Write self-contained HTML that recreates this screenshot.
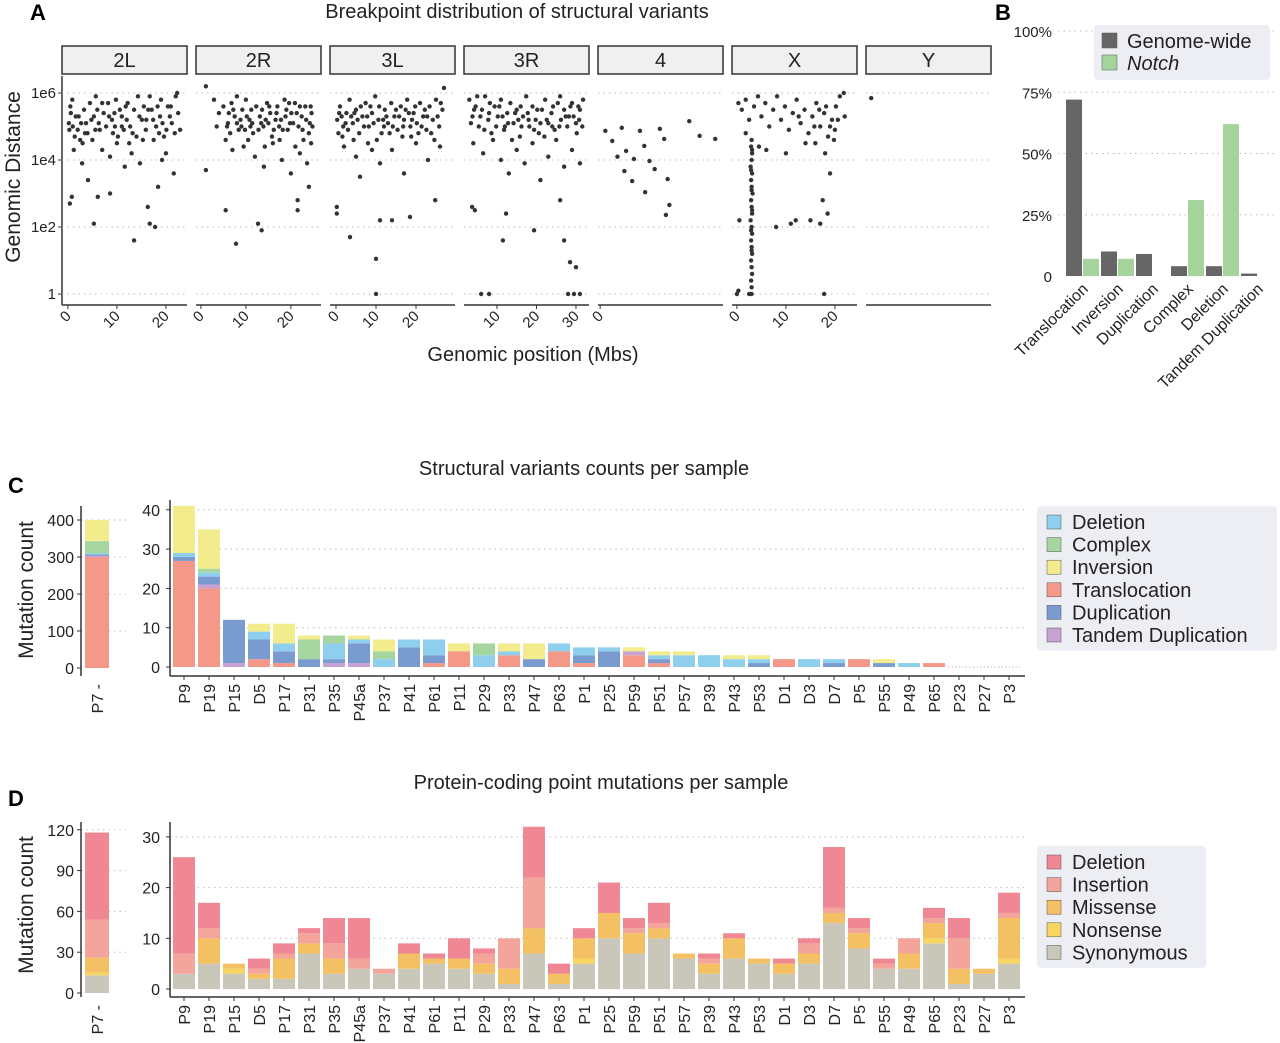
<!DOCTYPE html>
<html><head><meta charset="utf-8">
<style>
html,body{margin:0;padding:0;background:#fff;}
svg{display:block;font-family:"Liberation Sans",sans-serif;}
</style></head>
<body>
<svg id="fig" width="1280" height="1043" viewBox="0 0 1280 1043" xmlns="http://www.w3.org/2000/svg"></svg>
<script>
// ===== Panel A data (position Mb, log10 distance) =====
const facetNames = ["2L","2R","3L","3R","4","X","Y"];
const pts2L = [[0.2,5.1],[0.5,5.6],[0.9,5.8],[1.6,5.3],[2,4.9],[2.5,4.6],[3.3,5.5],[3.7,5.1],[4.5,5.7],[5.3,5.3],[5.7,5.9],[6.5,4.9],[7.3,5.4],[8.2,5.7],[9,5.2],[9.8,5.8],[10.2,4.7],[11,5.3],[11.8,5.6],[12.7,5.0],[13.5,5.5],[14.3,5.9],[15.1,5.2],[15.9,4.9],[16.7,5.9],[17.1,5.5],[18,5.0],[18.8,5.3],[19.6,4.7],[20.4,5.6],[21.2,5.1],[22,5.9],[22.9,4.9],[0.3,4.9],[1.2,4.3],[2.9,3.9],[4.1,3.4],[6.1,2.9],[8.6,3.0],[0.8,2.9],[0.4,2.7],[5.3,2.1],[13.5,1.6],[16.3,2.6],[16.7,2.1],[17.8,2.0],[19.2,4.0],[21.6,3.6],[8.6,4.1],[11.6,3.8],[14.7,3.9],[18.4,3.2],[22.3,6.0],[11,5.0],[10,4.5],[3,4.5],[7,4.3],[13,4.2],[16,5.2],[20,4.2],[1,5.0],[2.2,5.3],[4,4.8],[6,5.5],[7.8,5.0],[9.5,5.4],[12,5.2],[14,4.7],[15.5,5.6],[17.5,4.6],[19,5.8],[20.8,5.3],[21.8,4.8],[5,4.6],[12.5,4.5],[0.6,5.4],[1.4,4.7],[2.7,5.1],[3.5,4.8],[4.8,5.2],[6.3,5.1],[7,5.7],[8.4,5.3],[9.2,4.8],[10.6,5.5],[11.4,4.9],[12.2,5.7],[13.2,4.8],[14.6,5.3],[15.3,4.6],[16.4,5.5],[17.4,5.2],[18.3,5.6],[19.3,5.1],[20.1,4.9],[21,5.6],[22.5,5.4],[5.6,4.9],[9.6,5.0],[18.6,4.8]];
const pts2R = [[1.1,6.2],[2.9,5.8],[4,5.4],[5,5.6],[6,5.1],[6.8,5.7],[7.5,5.3],[8.4,4.9],[9.2,5.5],[10,5.8],[10.8,5.2],[11.6,4.8],[12.3,5.6],[13.1,5.3],[13.9,5.0],[14.7,5.7],[15.4,5.4],[16.2,4.9],[17,5.6],[17.8,5.2],[18.6,5.8],[19.3,4.9],[20.1,5.4],[20.9,5.7],[21.7,5.0],[22.4,5.3],[23.2,5.6],[24,4.8],[24.6,5.4],[5.5,4.6],[7,4.3],[9.5,4.4],[12,4.1],[14,3.8],[16,4.5],[18,4.0],[20,3.6],[22,4.2],[23.6,3.9],[24.5,4.5],[1.1,3.7],[5.5,2.5],[7.8,1.5],[12.7,2.1],[13.5,1.9],[21.5,2.5],[21.5,2.8],[24,3.2],[11,5.0],[15,5.1],[19,5.5],[8,5.9],[3.5,5.0],[10.5,4.6],[17.5,4.6],[22.8,4.6],[6.2,5.4],[8.8,5.2],[11.2,5.5],[13.6,5.5],[16.6,5.2],[19.8,5.1],[22,5.6],[24.2,5.1],[9.8,4.9],[14.2,4.4],[18.2,4.9],[21,4.4],[5.8,5.0],[6.5,4.8],[7.2,5.5],[8,5.1],[9,5.0],[10.2,5.3],[11.4,5.1],[12.8,4.9],[13.4,5.1],[14.4,5.2],[15.8,4.7],[16.8,5.4],[17.4,5.0],[18.8,5.3],[19.6,5.7],[20.5,5.1],[21.3,5.4],[22.6,4.9],[23.4,5.2],[24.4,5.6],[24.8,5.0],[15.2,5.6]];
const pts3L = [[0.3,5.2],[1,5.6],[1.8,5.0],[2.6,5.4],[3.4,5.8],[4.2,5.1],[5,5.5],[5.8,4.8],[6.6,5.3],[7.4,5.7],[8.2,5.0],[9,5.4],[9.8,5.9],[10.6,5.2],[11.4,4.8],[12.2,5.5],[13,5.1],[13.8,5.7],[14.6,5.3],[15.4,4.9],[16.2,5.6],[17,5.2],[17.8,5.8],[18.6,5.0],[19.4,5.4],[20.2,5.1],[21,5.7],[21.8,5.3],[22.6,4.9],[23.4,5.6],[24.2,5.2],[25,5.8],[25.8,5.0],[26.6,5.5],[27,6.15],[2,4.4],[5,4.1],[8,4.5],[11,3.9],[14,4.3],[17,3.6],[20,4.5],[23,4.0],[26,4.4],[0.2,2.6],[0.2,2.4],[3.5,1.7],[10,1.05],[10,0],[11,2.2],[14,2.2],[18.5,2.3],[24.8,2.8],[6,3.5],[12,5.0],[19,5.2],[1.4,5.3],[3,4.9],[4.6,5.4],[7,5.0],[8.6,5.6],[10.2,4.6],[12.6,5.3],[15,5.5],[16.6,4.7],[18.2,5.4],[20.6,4.8],[22.2,5.5],[24.6,4.6],[0.6,4.8],[0.8,5.4],[1.6,4.7],[2.4,5.1],[3.8,5.3],[4.4,4.6],[5.4,5.2],[6.2,5.6],[7.8,5.3],[9.4,5.1],[10.8,5.6],[11.8,5.2],[13.4,4.8],[14.2,5.0],[15.8,5.3],[16.8,5.0],[17.4,5.5],[18.8,4.7],[19.8,5.6],[21.4,5.0],[22.8,5.3],[23.8,4.8],[25.4,5.3],[26.2,5.7],[9,4.3]];
const pts3R = [[3,5.8],[3.8,5.3],[4.6,5.6],[5.4,5.0],[6.2,5.5],[7,5.9],[7.8,5.2],[8.6,4.8],[9.4,5.6],[10.2,5.3],[11,5.8],[11.8,4.9],[12.6,5.4],[13.4,5.7],[14.2,5.1],[15,5.5],[15.8,4.7],[16.6,5.3],[17.4,5.9],[18.2,5.0],[19,5.6],[19.8,5.2],[20.6,4.8],[21.4,5.5],[22.2,5.8],[23,5.1],[23.8,5.4],[24.6,4.9],[25.4,5.7],[26.2,5.2],[27,5.5],[27.8,5.0],[28.6,5.6],[29.4,5.3],[30.2,4.8],[31,5.5],[31.8,5.8],[4,4.5],[6.5,4.2],[9,4.6],[11,4.0],[13,3.6],[15,4.3],[17,3.9],[19,4.5],[21,3.4],[23,4.1],[25,4.6],[27,3.8],[29,4.3],[31,3.9],[12,5.0],[18,5.2],[24,5.0],[30,5.1],[5,5.9],[16,5.6],[26,5.9],[6,0],[8,0],[4.4,2.5],[11.5,1.6],[12.3,2.4],[19.4,1.9],[27,1.6],[28.5,0.95],[30,0.8],[28,0],[29.5,0],[31,0],[26,2.8],[3.7,2.6],[4.2,5.5],[8,5.4],[10.6,5.6],[14.6,5.4],[20.2,5.5],[22.6,5.2],[28.2,5.3],[30.6,5.6],[3.4,5.1],[5.8,5.3],[6.8,4.9],[8.2,5.7],[9.8,5.0],[11.4,5.3],[12.8,5.1],[13.8,4.6],[15.4,5.2],[16.2,5.0],[17.8,5.4],[19.4,4.9],[21,5.1],[22,4.7],[24.2,5.6],[25.8,5.0],[27.4,5.3],[29,5.7],[30.8,5.2],[31.6,5.0]];
const pts4 = [[0.06,4.87],[0.2,4.1],[0.25,4.96],[0.14,4.57],[0.3,4.27],[0.39,4.03],[0.46,4.87],[0.51,4.42],[0.57,3.97],[0.69,4.93],[0.74,4.63],[0.78,3.43],[0.63,3.73],[0.52,3.04],[0.8,2.66],[0.76,2.36],[1.03,5.16],[1.15,4.72],[1.33,4.63],[0.37,3.37],[0.28,3.67]];
const ptsX = [[3,4.6],[2.9,4.4],[3.1,4.2],[3,4.0],[2.8,3.8],[3.1,3.6],[2.9,3.4],[3,3.2],[3.2,3.0],[2.9,2.8],[3,2.6],[3.1,2.4],[2.8,2.2],[3,2.0],[3.1,1.8],[2.9,1.6],[3,1.4],[3.1,1.2],[2.9,1.0],[3,0.8],[3.1,0.6],[2.9,0.4],[3,0.2],[3,0],[3.1,4.3],[2.9,3.7],[3,3.1],[3.1,2.5],[2.9,1.9],[3,1.3],[0.3,5.7],[1,5.5],[1.8,5.8],[2.5,5.2],[3.5,5.6],[4.3,5.9],[5,5.3],[5.8,5.7],[6.6,5.0],[7.4,5.5],[8.2,5.9],[9,5.2],[9.8,5.6],[10.6,4.9],[11.4,5.4],[12.2,5.8],[13,5.1],[13.8,5.5],[14.6,4.8],[15.4,5.3],[16.2,5.7],[17,5.0],[17.8,5.4],[18.6,4.7],[19.4,5.2],[20.2,5.6],[21,5.9],[21.8,6.0],[22,5.3],[16,4.5],[18,4.2],[19,3.6],[17.5,2.8],[18.5,2.4],[17,2.1],[15,2.2],[11,2.1],[12,2.2],[8,2.0],[6,4.3],[4.5,4.4],[0.5,2.2],[0.3,0.1],[0,0],[2.5,0],[17.8,0],[1.8,4.8],[10,4.2],[14,4.5],[20,4.9],[16.8,5.5],[19.8,4.6],[12.6,5.3],[15.8,5.0],[18.2,5.6],[19,5.0],[20.6,5.2]];
const ptsY = [[0.15,5.85]];
const facetPoints = [pts2L,pts2R,pts3L,pts3R,pts4,ptsX,ptsY];
const facetDomains = [[-1.2,24.3],[-1.1,26.7],[-1.5,29.75],[1.65,33.3],[-0.025,1.42],[-1.0,24.5],[0,3.6]];
const facetTicks = [[0,10,20],[0,10,20],[0,10,20],[10,20,30],[0],[0,10,20],[]];
const aYTicks = [0,2,4,6];
const aYLabels = ["1","1e2","1e4","1e6"];

// ===== Panel B data =====
const bCats = ["Translocation","Inversion","Duplication","Complex","Deletion","Tandem Duplication"];
const bGenome = [72,10,9,4,4,1];
const bNotch = [7,7,0,31,62,0];
const bTicks = [0,25,50,75,100];
const bTickLabels = ["0","25%","50%","75%","100%"];

// ===== Panel C data =====
const samples = ["P9","P19","P15","D5","P17","P31","P35","P45a","P37","P41","P61","P11","P29","P33","P47","P63","P1","P25","P59","P51","P57","P39","P43","P53","D1","D3","D7","P5","P55","P49","P65","P23","P27","P3"];
const svTypes = ["Translocation","Tandem Duplication","Duplication","Deletion","Complex","Inversion"];
const svTranslocation = [27,20,0,2,1,0,0,0,0,0,1,4,0,3,0,4,1,0,3,1,0,0,0,0,2,0,0,2,0,0,1,0,0,0];
const svTandem =        [0,1,1,0,0,0,1,1,0,0,0,0,0,0,0,0,0,0,1,0,0,0,0,0,0,0,0,0,0,0,0,0,0,0];
const svDuplication =   [1,2,11,5,3,2,1,5,0,5,2,0,0,0,2,0,2,4,0,1,0,0,0,1,0,0,1,0,1,0,0,0,0,0];
const svDeletion =      [1,1,0,2,2,0,4,1,2,2,4,0,3,1,0,2,2,1,0,1,3,3,2,1,0,2,1,0,0,1,0,0,0,0];
const svComplex =       [0,1,0,0,0,5,2,0,2,0,0,0,3,0,0,0,0,0,0,0,0,0,0,0,0,0,0,0,0,0,0,0,0,0];
const svInversion =     [12,10,0,2,5,1,0,1,3,0,0,2,0,2,4,0,0,0,1,1,1,0,1,1,0,0,0,0,1,0,0,0,0,0];
const svP7 = [300,3,4,3,33,57];
const cTicks = [0,10,20,30,40];
const cP7Ticks = [0,100,200,300,400];

// ===== Panel D data =====
const pmTypes = ["Synonymous","Nonsense","Missense","Insertion","Deletion"];
const pmSynonymous = [3,5,3,2,2,7,3,4,3,4,5,4,3,1,7,1,5,10,7,10,6,3,6,5,3,5,13,8,4,4,9,1,3,5];
const pmNonsense =   [0,0,1,0,0,0,0,0,0,0,0,0,0,0,0,0,1,0,0,0,0,0,0,0,0,0,0,0,0,0,1,0,0,1];
const pmMissense =   [0,5,1,1,4,2,3,0,0,3,1,2,2,3,5,2,4,5,4,2,1,2,4,1,2,2,2,3,0,3,3,3,1,8];
const pmInsertion =  [4,2,0,1,1,2,3,2,1,0,0,0,2,6,10,0,0,0,1,1,0,1,0,0,0,2,1,1,1,3,1,6,0,1];
const pmDeletion =   [19,5,0,2,2,1,5,8,0,2,1,4,1,0,10,2,2,6,2,4,0,1,1,0,1,1,12,2,1,0,2,4,0,4];
const pmP7 = [13,2,11,28,64];
const dTicks = [0,10,20,30];
const dP7Ticks = [0,30,60,90,120];

const NS = "http://www.w3.org/2000/svg";
const svg = document.getElementById("fig");
function mk(tag, attrs, parent){
  const e = document.createElementNS(NS, tag);
  for (const k in attrs) e.setAttribute(k, attrs[k]);
  (parent||svg).appendChild(e);
  return e;
}
function txt(x,y,s,size,anchor,parent,extra){
  const t = mk("text",Object.assign({x:x,y:y,"font-size":size,"text-anchor":anchor||"start",fill:"#222"},extra||{}),parent);
  t.textContent = s;
  return t;
}

// ---------- Panel labels ----------
[["A",30,20],["B",995,20],["C",8,493],["D",8,806]].forEach(function(p){
  const t = txt(p[1],p[2],p[0],22,"start",svg,{"font-weight":"bold",fill:"#000"});
  
  
});

// ---------- Panel A ----------
const gA = mk("g",{});


let t;
t = txt(517,18,"Breakpoint distribution of structural variants",20,"middle",gA);


t = txt(0,0,"Genomic Distance",21,"middle",gA,{transform:"translate(20,177) rotate(-90)"});


t = txt(533,361,"Genomic position (Mbs)",20,"middle",gA);


const aTop = 76, aBot = 305;
function aY(v){ return 294 - v*33.5; }
aYTicks.forEach(function(v,i){
  const l = txt(56,aY(v)+5,aYLabels[i],15,"end",gA);
  
  
  const tk = mk("line",{x1:58,x2:62,y1:aY(v),y2:aY(v),stroke:"#333"},gA);
  
  
});
const ax = mk("line",{x1:62,x2:62,y1:aTop,y2:aBot,stroke:"#333","stroke-width":1.5},gA);


facetNames.forEach(function(nm,fi){
  const x0 = 62 + fi*134, x1 = x0+125;
  const g = mk("g",{},gA);
  
  
  const strip = mk("rect",{x:x0,y:46,width:125,height:28,fill:"#f0f0f0",stroke:"#333","stroke-width":1.5},g);
  
  
  const st = txt((x0+x1)/2,67,nm,20,"middle",g);
  
  
  aYTicks.forEach(function(v){
    const gl = mk("line",{x1:x0,x2:x1,y1:aY(v),y2:aY(v),stroke:"#bbb","stroke-dasharray":"1.5 4"},g);
    
    
  });
  const bl = mk("line",{x1:x0,x2:x1,y1:aBot,y2:aBot,stroke:"#333","stroke-width":1.5},g);
  
  
  const d = facetDomains[fi];
  const sx = function(v){ return x0 + (v-d[0])/(d[1]-d[0])*125; };
  facetTicks[fi].forEach(function(v){
    const tk = mk("line",{x1:sx(v),x2:sx(v),y1:aBot,y2:aBot+4,stroke:"#333"},g);
    
    
    const lb = txt(0,0,String(v),15,"end",g,{transform:"translate("+(sx(v)+4)+","+(aBot+12)+") rotate(-45)"});
    
    
  });
  facetPoints[fi].forEach(function(p){
    const c = mk("circle",{cx:sx(p[0]),cy:aY(p[1]),r:2.2,fill:"#333"},g);
    
    
  });
});

// ---------- Panel B ----------
const gB = mk("g",{});


function bY(v){ return 276 - v*2.45; }
bTicks.forEach(function(v,i){
  const l = txt(1052,bY(v)+6,bTickLabels[i],15,"end",gB);
  
  
  if (v>0){
    const gl = mk("line",{x1:1058,x2:1278,y1:bY(v),y2:bY(v),stroke:"#bbb","stroke-dasharray":"1.5 4"},gB);
    
    
  }
});
bCats.forEach(function(c,i){
  const cx = 1083 + i*35;
  const r1 = mk("rect",{x:cx-17,y:bY(bGenome[i]),width:16,height:bGenome[i]*2.45,fill:"#666"},gB);
  
  
  const r2 = mk("rect",{x:cx,y:bY(bNotch[i]),width:16,height:bNotch[i]*2.45,fill:"#a4d49c"},gB);
  
  
  const lb = txt(0,0,c,16,"end",gB,{transform:"translate("+(cx+6)+",290) rotate(-45)"});
  
  
});
const lgB = mk("g",{},gB);


mk("rect",{x:1094,y:25,width:176,height:55,rx:4,fill:"#eceef3"},lgB);
[["Genome-wide","#666","normal"],["Notch","#a4d49c","italic"]].forEach(function(e,i){
  const r = mk("rect",{x:1102,y:33+i*22,width:15,height:15,fill:e[1],stroke:"#555","stroke-width":0.5},lgB);
  
  
  const l = txt(1127,48+i*22,e[0],20,"start",lgB,{"font-style":e[2]});
  
  
});

// ---------- Stacked panels ----------
function stacked(cfg){
  const g = mk("g",{});
  
  
  const tt = txt(cfg.titleX,cfg.titleY,cfg.title,20,"middle",g);
  
  
  const yt = txt(0,0,"Mutation count",21,"middle",g,{transform:"translate("+cfg.yTitleX+","+cfg.yTitleY+") rotate(-90)"});
  
  
  // P7 side panel
  const p7y = function(v){ return cfg.p7Base - v*cfg.p7Scale; };
  cfg.p7Ticks.forEach(function(v){
    const l = txt(cfg.p7AxisX-7,p7y(v)+6,String(v),16,"end",g);
    
    
    mk("line",{x1:cfg.p7AxisX-4,x2:cfg.p7AxisX,y1:p7y(v),y2:p7y(v),stroke:"#333"},g);
    if (v>0){
      const gl = mk("line",{x1:cfg.p7AxisX,x2:cfg.p7AxisX+45,y1:p7y(v),y2:p7y(v),stroke:"#bbb","stroke-dasharray":"1.5 4"},g);
      
      
    }
  });
  const p7ax = mk("line",{x1:cfg.p7AxisX,x2:cfg.p7AxisX,y1:cfg.p7Top,y2:cfg.axisY,stroke:"#333","stroke-width":1.5},g);
  
  
  let acc = 0;
  cfg.p7.forEach(function(v,k){
    const r = mk("rect",{x:85,y:p7y(acc+v),width:24,height:v*cfg.p7Scale,fill:cfg.colors[k]},g);
    
    
    acc += v;
  });
  const p7l = txt(0,0,"P7 -",16,"end",g,{transform:"translate(103,"+(cfg.axisY+8)+") rotate(-90)"});
  
  
  // main
  const my = function(v){ return cfg.base - v*cfg.scale; };
  cfg.ticks.forEach(function(v){
    const l = txt(160,my(v)+6,String(v),16,"end",g);
    
    
    mk("line",{x1:166,x2:170,y1:my(v),y2:my(v),stroke:"#333"},g);
    if (v>0){
      const gl = mk("line",{x1:170,x2:1025,y1:my(v),y2:my(v),stroke:"#bbb","stroke-dasharray":"1.5 4"},g);
      
      
    }
  });
  const yax = mk("line",{x1:170,x2:170,y1:cfg.mainTop,y2:cfg.axisY,stroke:"#333","stroke-width":1.5},g);
  
  
  const xax = mk("line",{x1:170,x2:1025,y1:cfg.axisY,y2:cfg.axisY,stroke:"#333","stroke-width":1.5},g);
  
  
  samples.forEach(function(s,i){
    const cx = 184 + i*25;
    let a = 0;
    cfg.series.forEach(function(arr,k){
      const v = arr[i];
      if (v>0){
        const r = mk("rect",{x:cx-11,y:my(a+v),width:22,height:v*cfg.scale,fill:cfg.colors[k]},g);
        
        
      }
      a += v;
    });
    if (a===0){
      const z = mk("line",{x1:cx-11,x2:cx+11,y1:cfg.base,y2:cfg.base,stroke:"#bbb","stroke-dasharray":"1.5 2"},g);
      
      
    }
    mk("line",{x1:cx,x2:cx,y1:cfg.axisY,y2:cfg.axisY+4,stroke:"#333"},g);
    const lb = txt(0,0,s,16,"end",g,{transform:"translate("+(cx+6)+","+(cfg.axisY+8)+") rotate(-90)"});
    
    
  });
  // legend
  const lg = mk("g",{},g);
  
  
  mk("rect",{x:1037,y:cfg.legY,width:cfg.legW,height:cfg.legend.length*22.6+9,rx:4,fill:"#eceef3"},lg);
  cfg.legend.forEach(function(e,i){
    const r = mk("rect",{x:1047,y:cfg.legY+9+i*22.6,width:14,height:14,fill:e[1],stroke:"#555","stroke-width":0.5},lg);
    
    
    const l = txt(1072,cfg.legY+23+i*22.6,e[0],20,"start",lg);
    
    
  });
}
const cCol = {Deletion:"#8ecfee",Complex:"#a6d6a0",Inversion:"#f2ec8c",Translocation:"#f4988a",Duplication:"#7a9bd0",Tandem:"#c6a2d2"};
stacked({
  name:"panel-c-structural-variants", title:"Structural variants counts per sample", titleX:584, titleY:475,
  yTitleX:33, yTitleY:590,
  p7:svP7, p7Ticks:cP7Ticks, p7Base:668, p7Scale:0.37, p7AxisX:81, p7Top:506,
  ticks:cTicks, base:667, scale:3.93, mainTop:500, axisY:676,
  types:svTypes,
  series:[svTranslocation,svTandem,svDuplication,svDeletion,svComplex,svInversion],
  colors:[cCol.Translocation,cCol.Tandem,cCol.Duplication,cCol.Deletion,cCol.Complex,cCol.Inversion],
  legY:506, legW:240,
  legend:[["Deletion",cCol.Deletion],["Complex",cCol.Complex],["Inversion",cCol.Inversion],["Translocation",cCol.Translocation],["Duplication",cCol.Duplication],["Tandem Duplication",cCol.Tandem]]
});
const dCol = {Deletion:"#ef8794",Insertion:"#f4a59b",Missense:"#f4c064",Nonsense:"#f6d560",Synonymous:"#c9c7ba"};
stacked({
  name:"panel-d-point-mutations", title:"Protein-coding point mutations per sample", titleX:601, titleY:789,
  yTitleX:33, yTitleY:905,
  p7:pmP7, p7Ticks:dP7Ticks, p7Base:993, p7Scale:1.36, p7AxisX:81, p7Top:822,
  ticks:dTicks, base:989, scale:5.07, mainTop:822, axisY:997,
  types:pmTypes,
  series:[pmSynonymous,pmNonsense,pmMissense,pmInsertion,pmDeletion],
  colors:[dCol.Synonymous,dCol.Nonsense,dCol.Missense,dCol.Insertion,dCol.Deletion],
  legY:846, legW:169,
  legend:[["Deletion",dCol.Deletion],["Insertion",dCol.Insertion],["Missense",dCol.Missense],["Nonsense",dCol.Nonsense],["Synonymous",dCol.Synonymous]]
});
</script>
</body></html>
